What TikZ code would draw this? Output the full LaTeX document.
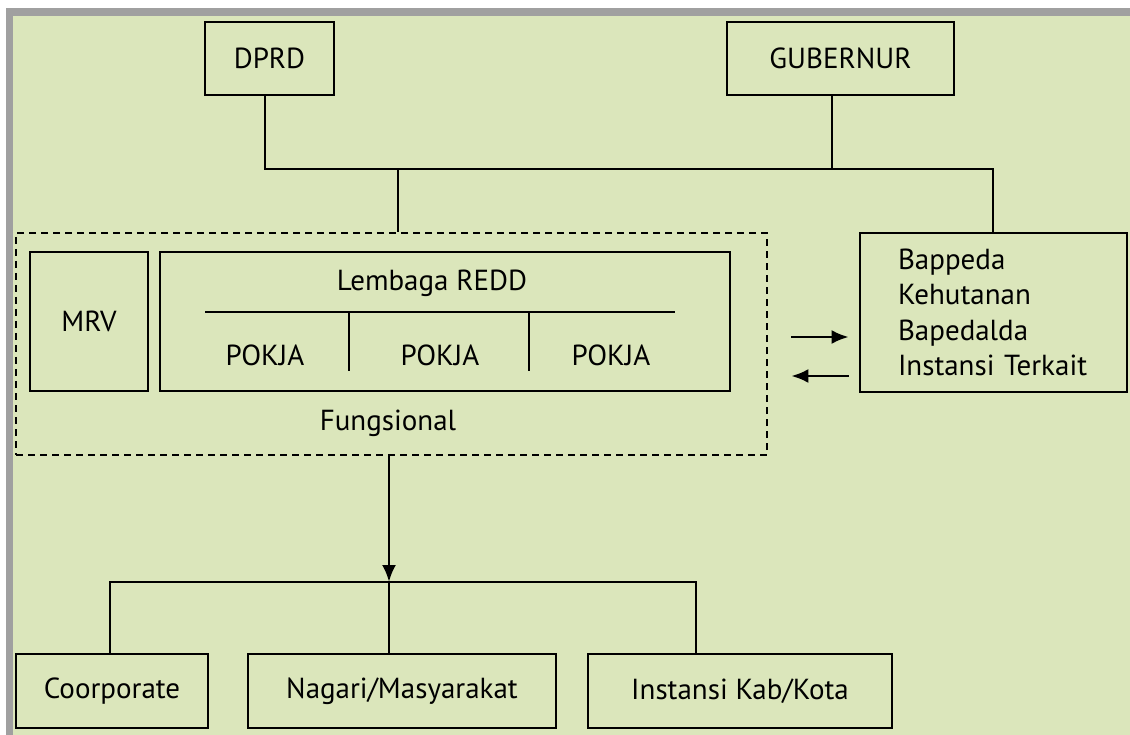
\documentclass[tikz,border=0pt]{standalone}
\usepackage{fontspec}
\setmainfont{PT Sans}
\usetikzlibrary{arrows.meta}

\definecolor{latar}{RGB}{219,230,187}
\definecolor{bingkai}{RGB}{160,160,160}

\tikzset{
    kotak/.style={draw, line width=2.7pt, rectangle, inner sep=0pt, align=center},
    garis/.style={line width=2.7pt},
    panah/.style={line width=2.7pt, -{Latex[length=17pt,width=14pt]}},
    teks/.style={inner sep=0pt}
}

\begin{document}
\begin{tikzpicture}[x=1pt, y=-1pt, font=\fontsize{29}{36}\selectfont]
    \useasboundingbox (0,0) rectangle (1130,735);

    % latar dan bingkai
    \fill[bingkai] (6,8) rectangle (1130,735);
    \fill[latar] (13,16) rectangle (1130,735);

    % pimpinan
    \node[kotak, minimum width=129pt, minimum height=73pt] (dprd) at (269.5,58.5) {DPRD};
    \node[kotak, minimum width=227pt, minimum height=73pt] (gub) at (840.5,58.5) {GUBERNUR};

    % lembaga fungsional
    \node[kotak, dashed, dash pattern=on 7pt off 5pt, minimum width=751pt, minimum height=222pt] (fungsi) at (391.5,344) {};
    \node[kotak, minimum width=118pt, minimum height=139pt] (mrv) at (89,321.5) {MRV};
    \node[kotak, minimum width=570pt, minimum height=139pt] (redd) at (445,321.5) {};
    \node[teks] (judul) at (432,283) {Lembaga REDD};
    \foreach \n/\x in {1/265,2/440,3/611} {
        \node[teks] (pokja\n) at (\x,355) {POKJA};
    }
    \draw[garis] (205,312) -- (675,312);
    \draw[garis] (349,312) -- (349,371);
    \draw[garis] (529,312) -- (529,371);
    \node[teks] (fung) at (388,423) {Fungsional};

    % instansi terkait
    \node[kotak, minimum width=267pt, minimum height=159pt, text width=191pt, inner xsep=38pt, align=left,
          font=\fontsize{29}{35.5}\selectfont] (bappeda) at (993.5,312.5)
          {Bappeda\\Kehutanan\\Bapedalda\\Instansi Terkait};

    % pelaksana
    \node[kotak, minimum width=192pt, minimum height=74pt] (coor) at (112,691) {Coorporate};
    \node[kotak, minimum width=308pt, minimum height=74pt] (nagari) at (402,691) {Nagari/Masyarakat};
    \node[kotak, minimum width=304pt, minimum height=74pt] (inst) at (740,691) {Instansi Kab/Kota};

    % sambungan atas
    \coordinate (jd) at (265,169);
    \coordinate (jg) at (832,169);
    \coordinate (jt) at (398,169);
    \coordinate (jb) at (993,169);
    \draw[garis] (jd |- dprd.south) -- (jd) -- (jb) -- (jb |- bappeda.north);
    \draw[garis] (jg |- gub.south) -- (jg);
    \draw[garis] (jt) -- (jt |- fungsi.north);

    % panah dua arah
    \draw[panah, shorten <=23pt, shorten >=10pt] (fungsi.east |- 0,337) -- (bappeda.west |- 0,337);
    \draw[panah, shorten <=10pt, shorten >=23pt] (bappeda.west |- 0,376) -- (fungsi.east |- 0,376);

    % sambungan bawah
    \coordinate (jm) at (389,582);
    \coordinate (jl) at (110,582);
    \coordinate (jr) at (696,582);
    \draw[panah] (jm |- fungsi.south) -- (jm);
    \draw[garis] (jl |- coor.north) -- (jl) -- (jr) -- (jr |- inst.north);
    \draw[garis] (jm) -- (jm |- nagari.north);
\end{tikzpicture}
\end{document}
